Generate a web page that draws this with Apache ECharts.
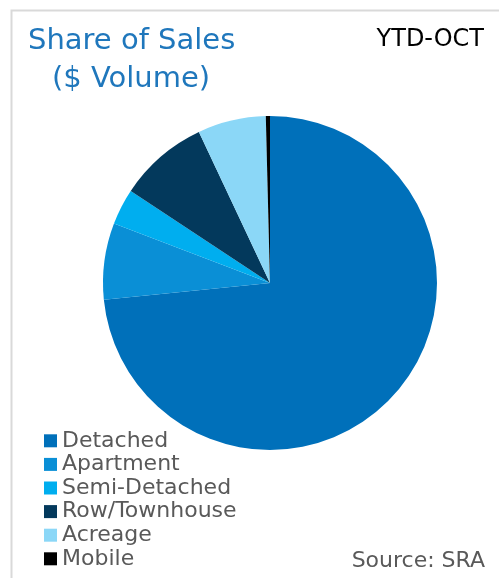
<!DOCTYPE html>
<html>
<head>
<meta charset="utf-8">
<script src="https://cdn.jsdelivr.net/npm/echarts@6/dist/echarts.min.js"></script>
<style>
  html, body { margin: 0; padding: 0; background: #fff; }
  #chart { width: 499px; height: 578px; }
</style>
</head>
<body>
<div id="chart"></div>
<script>
// share of $ volume by property type
var categories = ['Detached', 'Apartment', 'Semi-Detached', 'Row/Townhouse', 'Acreage', 'Mobile'];
var shares = [73.4, 7.4, 3.5, 8.7, 6.6, 0.4];
var colors = ['#0070BA', '#0A8FD6', '#00AEEF', '#03395C', '#8BD7F7', '#000000'];

var chart = echarts.init(document.getElementById('chart'));

var option = {
    animation: false,
    color: colors,
    graphic: [
        {
            type: 'polyline',
            shape: { points: [[11.5, 578], [11.5, 10.5], [499, 10.5]] },
            style: { stroke: '#D9D9D9', lineWidth: 2, fill: null }
        },
        {
            type: 'text', left: 28, top: 27,
            style: { text: 'Share of Sales', fontFamily: 'DejaVu Sans', fontSize: 29, fill: '#1F77BC' }
        },
        {
            type: 'text', left: 52, top: 65,
            style: { text: '($ Volume)', fontFamily: 'DejaVu Sans', fontSize: 29, fill: '#1F77BC' }
        },
        {
            type: 'text', right: 15, top: 28,
            style: { text: 'YTD-OCT', fontFamily: 'DejaVu Sans', fontSize: 24, fill: '#000' }
        },
        {
            type: 'text', right: 14, top: 550,
            style: { text: 'Source: SRA', fontFamily: 'DejaVu Sans', fontSize: 22, fill: '#595959' }
        }
    ],
    legend: {
        orient: 'vertical',
        left: 44,
        top: 429,
        height: 150,
        padding: 0,
        itemWidth: 13,
        itemHeight: 13,
        itemGap: 0,
        icon: 'rect',
        data: categories,
        textStyle: { fontFamily: 'DejaVu Sans', fontSize: 22, color: '#595959', lineHeight: 23.6 }
    },
    series: [
        {
            type: 'pie',
            center: [270, 283],
            radius: 167,
            startAngle: 90,
            clockwise: true,
            label: { show: false },
            labelLine: { show: false },
            emphasis: { disabled: true },
            data: categories.map(function (name, i) {
                return { name: name, value: shares[i] };
            })
        }
    ]
};
chart.setOption(option);
</script>
</body>
</html>
